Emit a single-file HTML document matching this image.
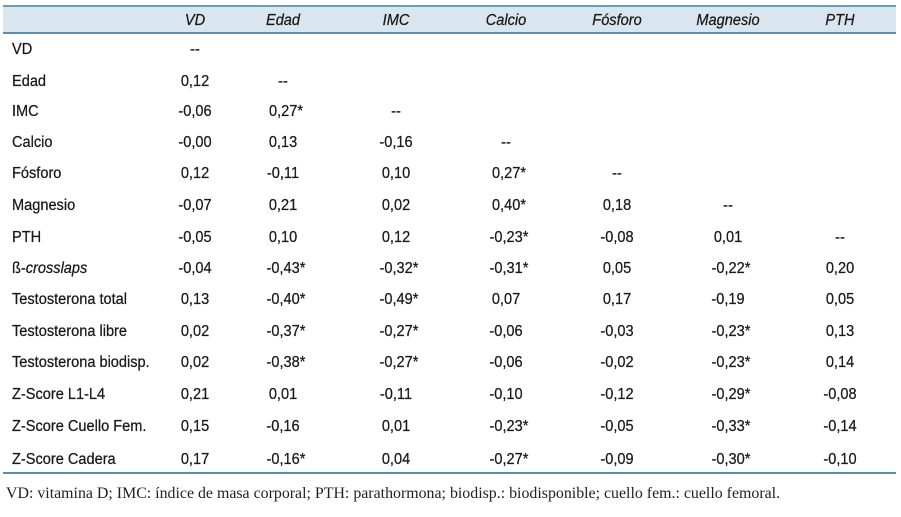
<!DOCTYPE html>
<html><head><meta charset="utf-8"><style>
body{margin:0;width:901px;height:517px;background:#fff;position:relative;overflow:hidden;font-family:"Liberation Sans",sans-serif;font-size:15.5px;color:#1a1718}
.hd{position:absolute;left:3px;top:5px;width:893px;height:29px;background:#d9e5ef;border-top:2px solid #6b9cc3;border-bottom:2px solid #5b8db5;box-sizing:border-box}
.bl{position:absolute;left:3px;top:472px;width:893px;height:2px;background:#5b8db5}
.t{position:absolute;white-space:nowrap;transform:translate(-50%,-50%) scaleX(0.94);-webkit-text-stroke:0.25px #1a1718}
.l{position:absolute;white-space:nowrap;transform:translateY(-50%) scaleX(0.94);transform-origin:0 50%;left:12px;-webkit-text-stroke:0.25px #1a1718}
.i{font-style:italic}
.f{position:absolute;left:6px;top:485px;font-family:"Liberation Serif",serif;font-size:15.9px;color:#231f20;white-space:nowrap}
</style></head><body>
<div class="hd"></div>
<div class="bl"></div>
<div id="c"></div>
<div class="f">VD: vitamina D; IMC: índice de masa corporal; PTH: parathormona; biodisp.: biodisponible; cuello fem.: cuello femoral.</div>
<script>
var xs=[195,283,396,506,617,728,840];
var hdr=["VD","Edad","IMC","Calcio","Fósforo","Magnesio","PTH"];
var ys=[49.5,81.5,111.5,142.5,173.5,205.5,237.5,268.5,299.5,331.5,362.5,394.5,426.5,459.5];
var rows=[
["VD",["--"]],
["Edad",["0,12","--"]],
["IMC",["-0,06","0,27*","--"]],
["Calcio",["-0,00","0,13","-0,16","--"]],
["Fósforo",["0,12","-0,11","0,10","0,27*","--"]],
["Magnesio",["-0,07","0,21","0,02","0,40*","0,18","--"]],
["PTH",["-0,05","0,10","0,12","-0,23*","-0,08","0,01","--"]],
["ß-<i>crosslaps</i>",["-0,04","-0,43*","-0,32*","-0,31*","0,05","-0,22*","0,20"]],
["Testosterona total",["0,13","-0,40*","-0,49*","0,07","0,17","-0,19","0,05"]],
["Testosterona libre",["0,02","-0,37*","-0,27*","-0,06","-0,03","-0,23*","0,13"]],
["Testosterona biodisp.",["0,02","-0,38*","-0,27*","-0,06","-0,02","-0,23*","0,14"]],
["Z-Score L1-L4",["0,21","0,01","-0,11","-0,10","-0,12","-0,29*","-0,08"]],
["Z-Score Cuello Fem.",["0,15","-0,16","0,01","-0,23*","-0,05","-0,33*","-0,14"]],
["Z-Score Cadera",["0,17","-0,16*","0,04","-0,27*","-0,09","-0,30*","-0,10"]]];
var h="";
hdr.forEach(function(s,k){h+='<div class="t i" style="left:'+xs[k]+'px;top:21px">'+s+'</div>';});
rows.forEach(function(r,j){
 h+='<div class="l" style="top:'+ys[j]+'px">'+r[0]+'</div>';
 r[1].forEach(function(v,k){var x=xs[k]+(v.indexOf("*")>=0?3:0);h+='<div class="t" style="left:'+x+'px;top:'+ys[j]+'px">'+v+'</div>';});
});
document.getElementById("c").innerHTML=h;
</script>
</body></html>
